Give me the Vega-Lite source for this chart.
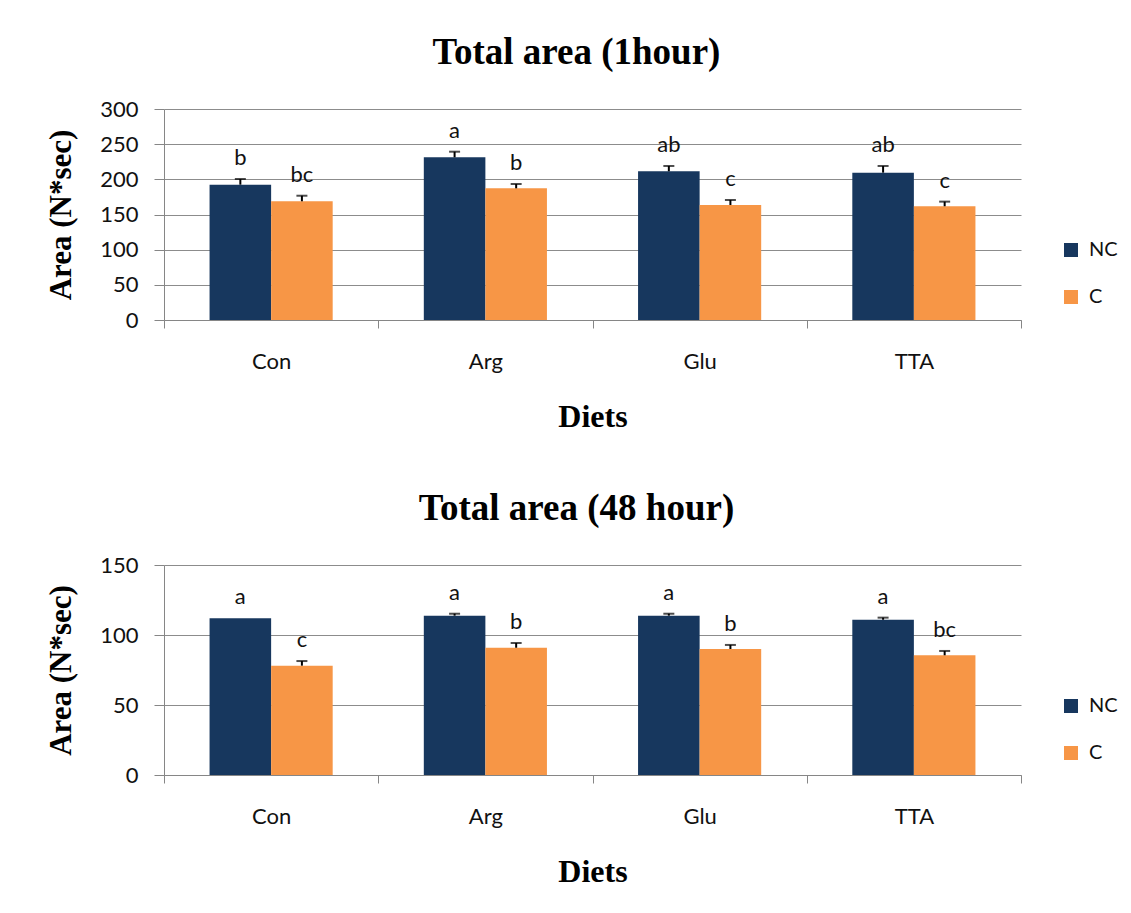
{
  "$schema": "https://vega.github.io/schema/vega-lite/v6.json",
  "background": "white",
  "padding": {"left": 45, "top": 34, "right": 0, "bottom": 0},
  "datasets": {
    "h1": [
      {"diet": "Con", "group": "NC", "value": 192.4, "upper": 200.5, "label": "b"},
      {"diet": "Con", "group": "C", "value": 168.8, "upper": 176.7, "label": "bc"},
      {"diet": "Arg", "group": "NC", "value": 231.3, "upper": 239.3, "label": "a"},
      {"diet": "Arg", "group": "C", "value": 187.2, "upper": 193.4, "label": "b"},
      {"diet": "Glu", "group": "NC", "value": 211.4, "upper": 219.0, "label": "ab"},
      {"diet": "Glu", "group": "C", "value": 163.5, "upper": 170.6, "label": "c"},
      {"diet": "TTA", "group": "NC", "value": 209.5, "upper": 219.0, "label": "ab"},
      {"diet": "TTA", "group": "C", "value": 161.7, "upper": 168.3, "label": "c"}
    ],
    "h48": [
      {"diet": "Con", "group": "NC", "value": 111.9, "upper": 111.9, "label": "a"},
      {"diet": "Con", "group": "C", "value": 78.1, "upper": 81.4, "label": "c"},
      {"diet": "Arg", "group": "NC", "value": 113.8, "upper": 115.2, "label": "a"},
      {"diet": "Arg", "group": "C", "value": 90.9, "upper": 94.3, "label": "b"},
      {"diet": "Glu", "group": "NC", "value": 113.8, "upper": 115.2, "label": "a"},
      {"diet": "Glu", "group": "C", "value": 90.0, "upper": 92.9, "label": "b"},
      {"diet": "TTA", "group": "NC", "value": 110.9, "upper": 112.4, "label": "a"},
      {"diet": "TTA", "group": "C", "value": 85.5, "upper": 88.6, "label": "bc"}
    ]
  },
  "spacing": 58,
  "resolve": {"legend": {"color": "independent"}},
  "vconcat": [
    {
      "title": {"text": "Total area (1hour)", "frame": "group", "anchor": "middle", "baseline": "alphabetic", "offset": -3, "dx": -16},
      "width": 857,
      "height": 211,
      "data": {"name": "h1"},
      "encoding": {
        "x": {"field": "diet", "type": "nominal", "sort": ["Con", "Arg", "Glu", "TTA"], "title": "Diets",
              "scale": {"paddingInner": 0, "paddingOuter": 0}},
        "xOffset": {"field": "group", "type": "nominal", "sort": ["NC", "C"], "scale": {"paddingInner": 0, "paddingOuter": 0.74}}
      },
      "layer": [
        {
          "mark": {"type": "bar"},
          "encoding": {
            "y": {"field": "value", "type": "quantitative", "title": "Area (N*sec)", "scale": {"domain": [0, 300], "nice": false},
                  "axis": {"values": [0, 50, 100, 150, 200, 250, 300]}},
            "color": {"field": "group", "type": "nominal", "sort": ["NC", "C"],
                      "scale": {"domain": ["NC", "C"], "range": ["#17375E", "#F79646"]},
                      "legend": {"orient": "none", "legendX": 897, "legendY": 131, "title": null}}
          }
        },
        {
          "transform": [{"filter": "datum.upper > datum.value"}],
          "mark": {"type": "rule", "strokeWidth": 2, "color": "black"},
          "encoding": {"y": {"field": "value", "type": "quantitative", "title": "Area (N*sec)", "axis": {"values": [0, 50, 100, 150, 200, 250, 300]}}, "y2": {"field": "upper"}}
        },
        {
          "transform": [{"filter": "datum.upper > datum.value"}],
          "mark": {"type": "tick", "thickness": 2, "size": 11, "color": "black"},
          "encoding": {"y": {"field": "upper", "type": "quantitative", "title": "Area (N*sec)", "axis": {"values": [0, 50, 100, 150, 200, 250, 300]}}}
        },
        {
          "mark": {"type": "text", "dy": -14, "baseline": "alphabetic", "font": "Lato", "fontSize": 22, "color": "#111"},
          "encoding": {"y": {"field": "upper", "type": "quantitative", "title": "Area (N*sec)", "axis": {"values": [0, 50, 100, 150, 200, 250, 300]}}, "text": {"field": "label"}}
        }
      ]
    },
    {
      "title": {"text": "Total area (48 hour)", "frame": "group", "anchor": "middle", "baseline": "alphabetic", "offset": -3, "dx": -16},
      "width": 857,
      "height": 210,
      "data": {"name": "h48"},
      "encoding": {
        "x": {"field": "diet", "type": "nominal", "sort": ["Con", "Arg", "Glu", "TTA"], "title": "Diets",
              "scale": {"paddingInner": 0, "paddingOuter": 0}},
        "xOffset": {"field": "group", "type": "nominal", "sort": ["NC", "C"], "scale": {"paddingInner": 0, "paddingOuter": 0.74}}
      },
      "layer": [
        {
          "mark": {"type": "bar"},
          "encoding": {
            "y": {"field": "value", "type": "quantitative", "title": "Area (N*sec)", "scale": {"domain": [0, 150], "nice": false},
                  "axis": {"values": [0, 50, 100, 150]}},
            "color": {"field": "group", "type": "nominal", "sort": ["NC", "C"],
                      "scale": {"domain": ["NC", "C"], "range": ["#17375E", "#F79646"]},
                      "legend": {"orient": "none", "legendX": 897, "legendY": 131, "title": null}}
          }
        },
        {
          "transform": [{"filter": "datum.upper > datum.value"}],
          "mark": {"type": "rule", "strokeWidth": 2, "color": "black"},
          "encoding": {"y": {"field": "value", "type": "quantitative", "title": "Area (N*sec)", "axis": {"values": [0, 50, 100, 150]}}, "y2": {"field": "upper"}}
        },
        {
          "transform": [{"filter": "datum.upper > datum.value"}],
          "mark": {"type": "tick", "thickness": 2, "size": 11, "color": "black"},
          "encoding": {"y": {"field": "upper", "type": "quantitative", "title": "Area (N*sec)", "axis": {"values": [0, 50, 100, 150]}}}
        },
        {
          "mark": {"type": "text", "dy": -14, "baseline": "alphabetic", "font": "Lato", "fontSize": 22, "color": "#111"},
          "encoding": {"y": {"field": "upper", "type": "quantitative", "title": "Area (N*sec)", "axis": {"values": [0, 50, 100, 150]}}, "text": {"field": "label"}}
        }
      ]
    }
  ],
  "config": {
    "view": {"stroke": null},
    "title": {"font": "Liberation Serif", "fontWeight": "bold", "fontSize": 37, "color": "#000"},
    "axisX": {
      "tickBand": "extent", "grid": false, "domainColor": "#868686", "tickColor": "#868686", "tickSize": 8,
      "labelAngle": 0, "labelFont": "Lato", "labelFontSize": 22, "labelColor": "#111", "labelPadding": 23,
      "titleFont": "Liberation Serif", "titleFontWeight": "bold", "titleFontSize": 32, "titleColor": "#000", "titlePadding": 29
    },
    "axisY": {
      "grid": true, "gridColor": "#8c8c8c", "gridWidth": 1, "domainColor": "#868686", "tickColor": "#868686", "tickSize": 10,
      "labelFont": "Lato", "labelFontSize": 22, "labelColor": "#111", "labelPadding": 16, "labelOverlap": false,
      "titleFont": "Liberation Serif", "titleFontWeight": "bold", "titleFontSize": 31, "titleColor": "#000", "titlePadding": 22
    },
    "legend": {
      "symbolType": "square", "symbolSize": 196, "symbolStrokeWidth": 0, "labelFont": "Lato", "labelFontSize": 20,
      "labelColor": "#111", "rowPadding": 27, "labelOffset": 8, "padding": 0
    }
  }
}
